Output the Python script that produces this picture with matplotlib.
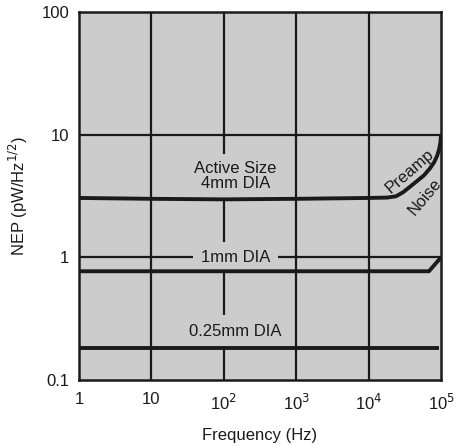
import numpy as np
import matplotlib
matplotlib.use("Agg")
import matplotlib.pyplot as plt

plt.rcParams['font.family'] = ['Liberation Sans', 'DejaVu Sans']

# curves (Hz, pW/Hz^1/2)
f_4mm = [1, 10, 100, 1e3, 1e4, 1.8e4, 2.4e4, 3.0e4, 3.8e4, 4.8e4, 5.8e4, 7.0e4, 8.0e4, 8.8e4, 9.4e4, 9.8e4, 1e5]
nep_4mm = [3.05, 3.0, 2.97, 3.0, 3.05, 3.07, 3.15, 3.4, 3.8, 4.25, 4.66, 5.3, 5.94, 6.7, 7.6, 8.7, 10.0]
f_1mm = [1, 10, 100, 1e3, 1e4, 6.8e4, 1e5]
nep_1mm = [0.77, 0.77, 0.77, 0.77, 0.77, 0.77, 1.0]
f_025 = [1, 10, 100, 1e3, 1e4, 9.5e4]
nep_025 = [0.182, 0.182, 0.182, 0.182, 0.182, 0.182]

xticks = [1, 10, 100, 1e3, 1e4, 1e5]
xticklabels = ['1', '10', '10$^2$', '10$^3$', '10$^4$', '10$^5$']
yticks = [0.1, 1, 10, 100]
yticklabels = ['0.1', '1', '10', '100']

bg = '#cccccc'
ink = '#1a1a1a'
fs = 12

fig = plt.figure(figsize=(4.66, 4.46), dpi=100)
ax = fig.add_axes([0.1695, 0.148, 0.777, 0.825])
ax.set_facecolor(bg)
ax.set_xscale('log')
ax.set_yscale('log')
ax.set_xlim(1, 1e5)
ax.set_ylim(0.1, 100)

for x in xticks[1:-1]:
    ax.axvline(x, color=ink, lw=1.6, zorder=1)
for y in yticks[1:-1]:
    ax.axhline(y, color=ink, lw=1.6, zorder=1)

ax.plot(f_4mm, nep_4mm, color=ink, lw=2.8, zorder=4, solid_capstyle='butt')
ax.plot(f_1mm, nep_1mm, color=ink, lw=2.8, zorder=4, solid_capstyle='butt')
ax.plot(f_025, nep_025, color=ink, lw=2.8, zorder=4, solid_capstyle='butt')

box = dict(facecolor=bg, edgecolor='none', boxstyle='square,pad=0.45')
ax.text(145, 4.6, 'Active Size\n4mm DIA', ha='center', va='center', fontsize=fs,
        color=ink, linespacing=1.0, bbox=box, zorder=3)
ax.text(145, 1.0, '1mm DIA', ha='center', va='center', fontsize=fs,
        color=ink, bbox=box, zorder=3)
ax.text(145, 0.25, '0.25mm DIA', ha='center', va='center', fontsize=fs,
        color=ink, bbox=dict(facecolor=bg, edgecolor='none', boxstyle='square,pad=0.5'), zorder=3)
ax.text(3.7e4, 5.0, 'Preamp', ha='center', va='center', fontsize=fs,
        color=ink, rotation=41, zorder=5)
ax.text(5.9e4, 3.1, 'Noise', ha='center', va='center', fontsize=fs,
        color=ink, rotation=50, zorder=5)

ax.set_xticks(xticks)
ax.set_xticklabels(xticklabels)
ax.set_yticks(yticks)
ax.set_yticklabels(yticklabels)
ax.minorticks_off()
ax.tick_params(length=0, labelsize=fs, colors=ink, pad=9)
ax.tick_params(axis='y', pad=7)
for s in ax.spines.values():
    s.set_linewidth(1.8)
    s.set_color(ink)
    s.set_zorder(6)

ax.set_xlabel('Frequency (Hz)', fontsize=fs, color=ink, labelpad=11)
ax.set_ylabel('NEP (pW/Hz$^{1/2}$)', fontsize=fs, color=ink, labelpad=8)

fig.savefig('out.png', dpi=100, facecolor='white')
